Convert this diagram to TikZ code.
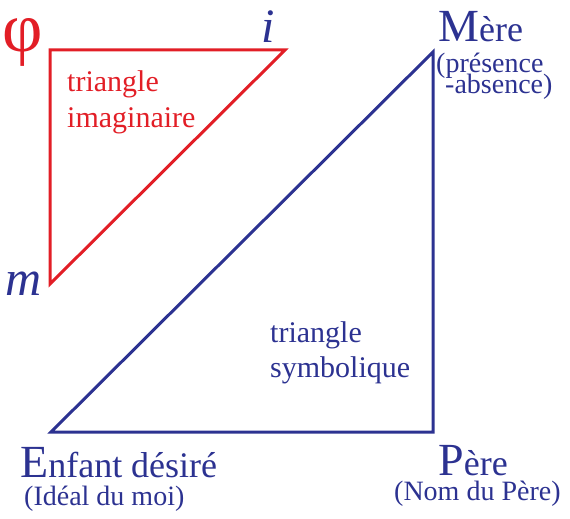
\documentclass[tikz,border=0pt]{standalone}
\usepackage{fontspec}
\setmainfont{Liberation Serif}
\usepackage{xcolor}
\newcommand{\BigCap}[1]{{\fontsize{46}{46}\selectfont #1}}
\newcommand{\LbMere}{\BigCap{M}ère}
\newcommand{\LbPere}{\BigCap{P}ère}
\newcommand{\LbEnfant}{\BigCap{E}nfant désiré}
\definecolor{myred}{RGB}{226,30,38}
\definecolor{myblue}{RGB}{44,50,145}

\begin{document}
\begin{tikzpicture}[x=1pt,y=-1pt,
    lbl/.style={inner sep=0pt,anchor=base west},
    big/.style={font=\fontsize{36}{36}\selectfont},
    mid/.style={font=\fontsize{30}{30}\selectfont},
    small/.style={font=\fontsize{28}{28}\selectfont},
    side/.style={line width=3pt}]
  \useasboundingbox (0,0) rectangle (570,519);

  % imaginary triangle
  \coordinate (Phi) at (50,50);
  \coordinate (I)   at (285,50);
  \coordinate (M)   at (50,284);
  \draw[side, myred] (Phi) -- (I) -- (M) -- cycle;

  \node[lbl, myred, font=\fontsize{70}{70}\selectfont] (PhiL) at (2,52) {φ};
  \node[lbl, myblue, font=\fontsize{48}{48}\selectfont\itshape] (IL) at (261,43) {i};
  \node[lbl, myblue, font=\fontsize{50}{50}\selectfont\itshape] (ML) at (5,295) {m};
  \node[lbl, myred, mid] (Imag1) at (67,91)  {triangle};
  \node[lbl, myred, mid] (Imag2) at (67,127) {imaginaire};

  % symbolic triangle
  \coordinate (Enfant) at (51,432);
  \coordinate (Pere)   at (433,432);
  \coordinate (Mere)   at (433,52);
  \draw[side, myblue] (Enfant) -- (Pere) -- (Mere) -- cycle;

  \node[lbl, myblue, big]   (MereL)   at (438,42)  {\LbMere};
  \node[lbl, myblue, small] (Mere1)   at (436,72)  {(présence};
  \node[lbl, myblue, small] (Mere2)   at (445,93)  {-absence)};
  \node[lbl, myblue, big]   (EnfantL) at (20,477)  {\LbEnfant};
  \node[lbl, myblue, small] (Enfant1) at (24,505)  {(Idéal du moi)};
  \node[lbl, myblue, big]   (PereL)   at (438,475) {\LbPere};
  \node[lbl, myblue, small] (Pere1)   at (394,500) {(Nom du Père)};
  \node[lbl, myblue, mid]   (Symb1)   at (270,342) {triangle};
  \node[lbl, myblue, mid]   (Symb2)   at (270,377) {symbolique};
\end{tikzpicture}
\end{document}
